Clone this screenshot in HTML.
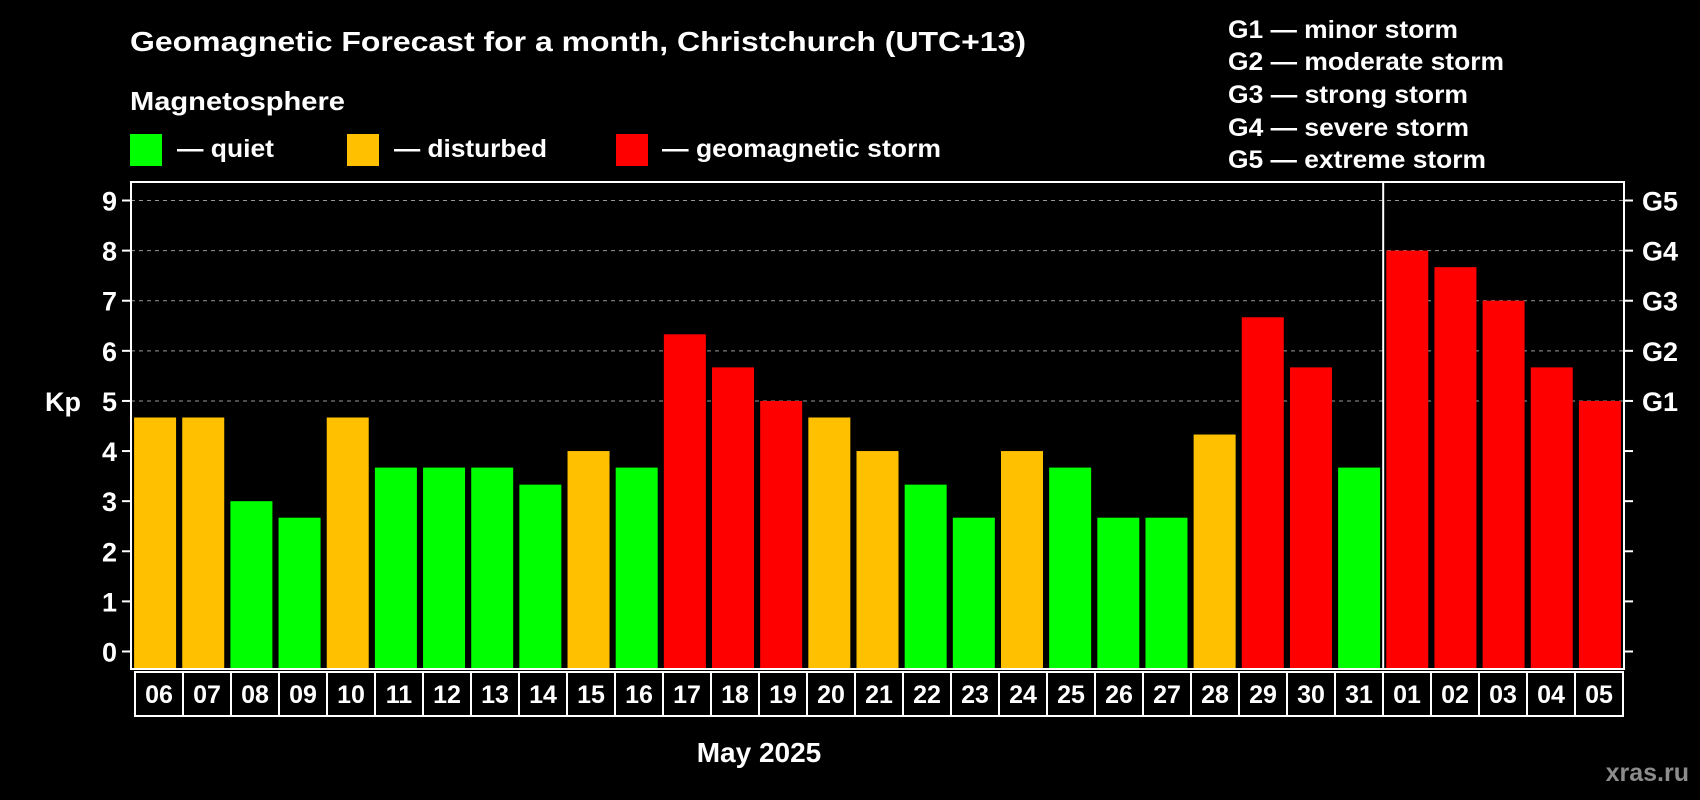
<!DOCTYPE html>
<html><head><meta charset="utf-8"><style>
html,body{margin:0;padding:0;background:#000;}
svg{display:block;font-family:"Liberation Sans",sans-serif;font-weight:bold;}
</style></head><body>
<svg id="chart" width="1700" height="800" viewBox="0 0 1700 800">
<text x="130" y="51" fill="#fff" font-size="28" textLength="896" lengthAdjust="spacingAndGlyphs">Geomagnetic Forecast for a month, Christchurch (UTC+13)</text>
<text x="130" y="110" fill="#fff" font-size="26" textLength="215" lengthAdjust="spacingAndGlyphs">Magnetosphere</text>
<g><rect x="130" y="134" width="32" height="32" fill="#00ff00"/><text x="177" y="157" fill="#fff" font-size="25" textLength="97" lengthAdjust="spacingAndGlyphs">— quiet</text></g>
<g><rect x="347" y="134" width="32" height="32" fill="#ffc000"/><text x="394" y="157" fill="#fff" font-size="25" textLength="153" lengthAdjust="spacingAndGlyphs">— disturbed</text></g>
<g><rect x="616" y="134" width="32" height="32" fill="#ff0000"/><text x="662" y="157" fill="#fff" font-size="25" textLength="279" lengthAdjust="spacingAndGlyphs">— geomagnetic storm</text></g>
<g fill="#fff" font-size="25">
<text x="1228" y="38" textLength="230" lengthAdjust="spacingAndGlyphs">G1 — minor storm</text>
<text x="1228" y="70" textLength="276" lengthAdjust="spacingAndGlyphs">G2 — moderate storm</text>
<text x="1228" y="103" textLength="240" lengthAdjust="spacingAndGlyphs">G3 — strong storm</text>
<text x="1228" y="136" textLength="241" lengthAdjust="spacingAndGlyphs">G4 — severe storm</text>
<text x="1228" y="168" textLength="258" lengthAdjust="spacingAndGlyphs">G5 — extreme storm</text>
</g>
<text x="63" y="411" fill="#fff" font-size="27" text-anchor="middle">Kp</text>
<text x="759" y="762" fill="#fff" font-size="28" text-anchor="middle">May 2025</text>
<text x="1689" y="781" fill="#8c8c8c" font-size="25" text-anchor="end">xras.ru</text>
<g id="plot"></g>
</svg>
<script>
const days = ["06","07","08","09","10","11","12","13","14","15","16","17","18","19","20","21","22","23","24","25","26","27","28","29","30","31","01","02","03","04","05"];
const kpValues = [4.67,4.67,3,2.67,4.67,3.67,3.67,3.67,3.33,4,3.67,6.33,5.67,5,4.67,4,3.33,2.67,4,3.67,2.67,2.67,4.33,6.67,5.67,3.67,8,7.67,7,5.67,5];
const yTicks = [0,1,2,3,4,5,6,7,8,9];
const gLabels = ["G1","G2","G3","G4","G5"];
const gLevels = [5,6,7,8,9];
const monthBreakIndex = 26;

const NS="http://www.w3.org/2000/svg";
const plot=document.getElementById('plot');
const L=131,R=1624,T=182,B=669,Y0=651.5,Y9=200.5;
const n=days.length, slot=(R-L)/n;
const yScale=v=>Y0+(Y9-Y0)*v/9;
const xScale=i=>L+i*slot;
function mk(tag,attrs,parent){const e=document.createElementNS(NS,tag);for(const k in attrs)e.setAttribute(k,attrs[k]);(parent||plot).appendChild(e);return e;}
gLevels.forEach(v=>{const y=yScale(v);
 const g=mk('line',{x1:L,x2:R,y1:y,y2:y,stroke:'#999','stroke-width':1,'stroke-dasharray':'4 4'});
 
 });
kpValues.forEach((v,i)=>{const y=yScale(v);
 const c=v>=5?'#ff0000':(v>=4?'#ffc000':'#00ff00');
 const r=mk('rect',{x:xScale(i)+(slot-42)/2,y:y,width:42,height:B-y,fill:c});
 
 });
const f=mk('rect',{x:L,y:T,width:R-L,height:B-T,fill:'none',stroke:'#fff','stroke-width':2});


const d=mk('line',{x1:xScale(monthBreakIndex),x2:xScale(monthBreakIndex),y1:T,y2:B,stroke:'#fff','stroke-width':2});


yTicks.forEach(v=>{const y=yScale(v);
 mk('line',{x1:L-9,x2:L,y1:y,y2:y,stroke:'#fff','stroke-width':2});
 mk('line',{x1:R,x2:R+9,y1:y,y2:y,stroke:'#fff','stroke-width':2});
 const t=mk('text',{x:117,y:y+10,fill:'#fff','font-size':27,'text-anchor':'end'});
 t.textContent=v;
 
 });
gLabels.forEach((g,i)=>{const y=yScale(gLevels[i]);
 const t=mk('text',{x:1642,y:y+10,fill:'#fff','font-size':27});
 t.textContent=g;
 
 });
const bx0=135,bw=(1623-135)/n;
days.forEach((dd,i)=>{const x=bx0+i*bw;
 const b=mk('rect',{x:x,y:672,width:bw,height:44,fill:'none',stroke:'#fff','stroke-width':2});
 
 
 const t=mk('text',{x:x+bw/2,y:703,fill:'#fff','font-size':25,'text-anchor':'middle'});
 t.textContent=dd;
 
 });
</script>
</body></html>
